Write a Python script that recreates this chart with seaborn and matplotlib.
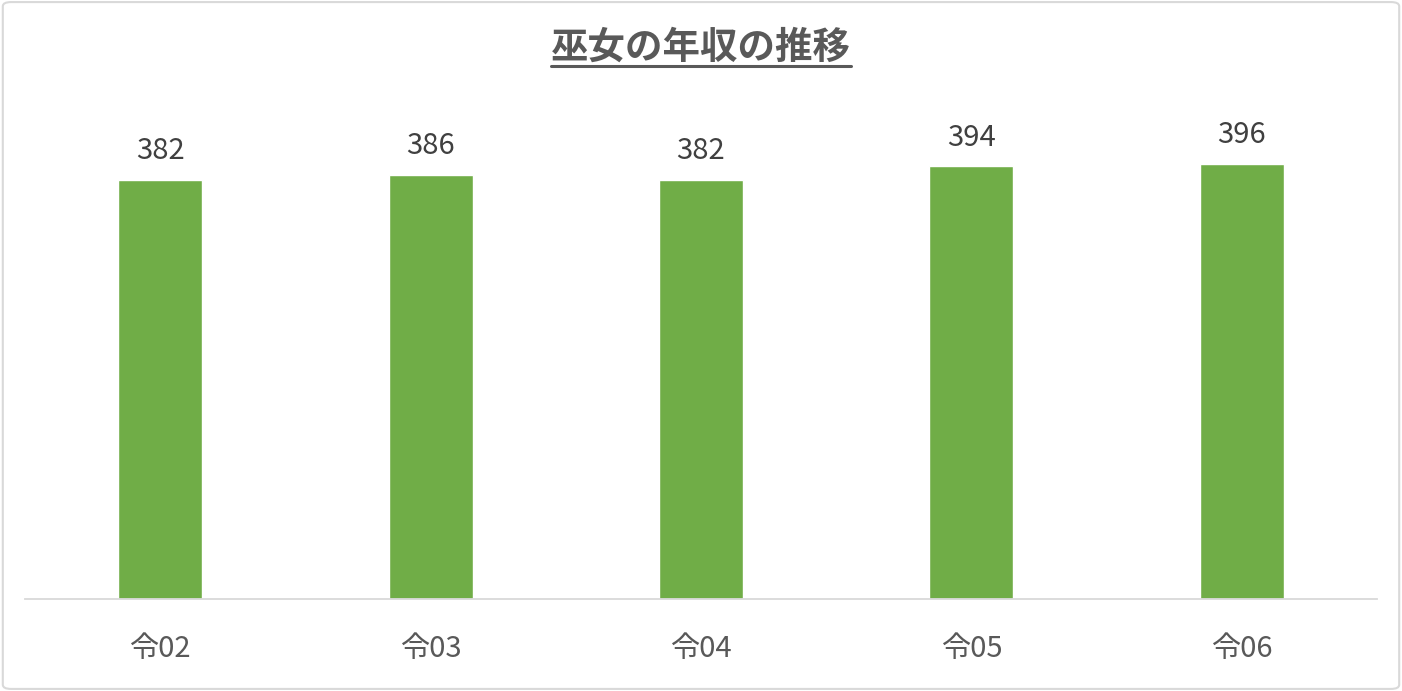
import matplotlib
matplotlib.use("Agg")
import matplotlib.pyplot as plt
import seaborn as sns
import pandas as pd
from matplotlib.patches import FancyBboxPatch
from matplotlib.lines import Line2D

# data
years = ["令02", "令03", "令04", "令05", "令06"]
income = [382, 386, 382, 394, 396]
title = "巫女の年収の推移"

df = pd.DataFrame({"year": years, "income": income})

sns.set_style("white")
plt.rcParams['font.family'] = ['Noto Sans CJK JP', 'DejaVu Sans']

fig = plt.figure(figsize=(14.02, 6.91), dpi=100)
ax = fig.add_axes([25 / 1402, 92 / 691, 1352 / 1402, 494 / 691])

sns.barplot(data=df, x="year", y="income", color="#70AD47", saturation=1,
            width=0.31, ax=ax)

ax.set_ylim(0, 450)
ax.set_xlim(-0.5, 4.5)
ax.set_xlabel("")
ax.set_ylabel("")
ax.set_yticks([])
for s in ["top", "left", "right"]:
    ax.spines[s].set_visible(False)
ax.spines["bottom"].set_color("#D9D9D9")
ax.spines["bottom"].set_linewidth(1.3)
ax.tick_params(axis="x", length=0, pad=25, labelsize=21, labelcolor="#595959")

# value labels
for i, v in enumerate(income):
    ax.annotate(str(v), (i, v), xytext=(0, 10), textcoords="offset points",
                ha="center", va="bottom", fontsize=21, color="#404040")

# title with underline
t = fig.text(0.5, 1 - 47 / 691, title, ha="center", va="center",
             fontsize=27, fontweight="bold", color="#595959")
fig.canvas.draw()
bb = t.get_window_extent(fig.canvas.get_renderer()).transformed(fig.transFigure.inverted())
y_line = 1 - 66 / 691
fig.add_artist(Line2D([bb.x0, bb.x1], [y_line, y_line], transform=fig.transFigure,
                      color="#595959", linewidth=2.2))

# outer border
fig.patches.append(FancyBboxPatch((0.002, 0.003), 0.996, 0.994,
                                  boxstyle="round,pad=0,rounding_size=0.006",
                                  transform=fig.transFigure, facecolor="none",
                                  edgecolor="#D9D9D9", linewidth=1.5))

fig.savefig("out.png", dpi=100, facecolor="white")
